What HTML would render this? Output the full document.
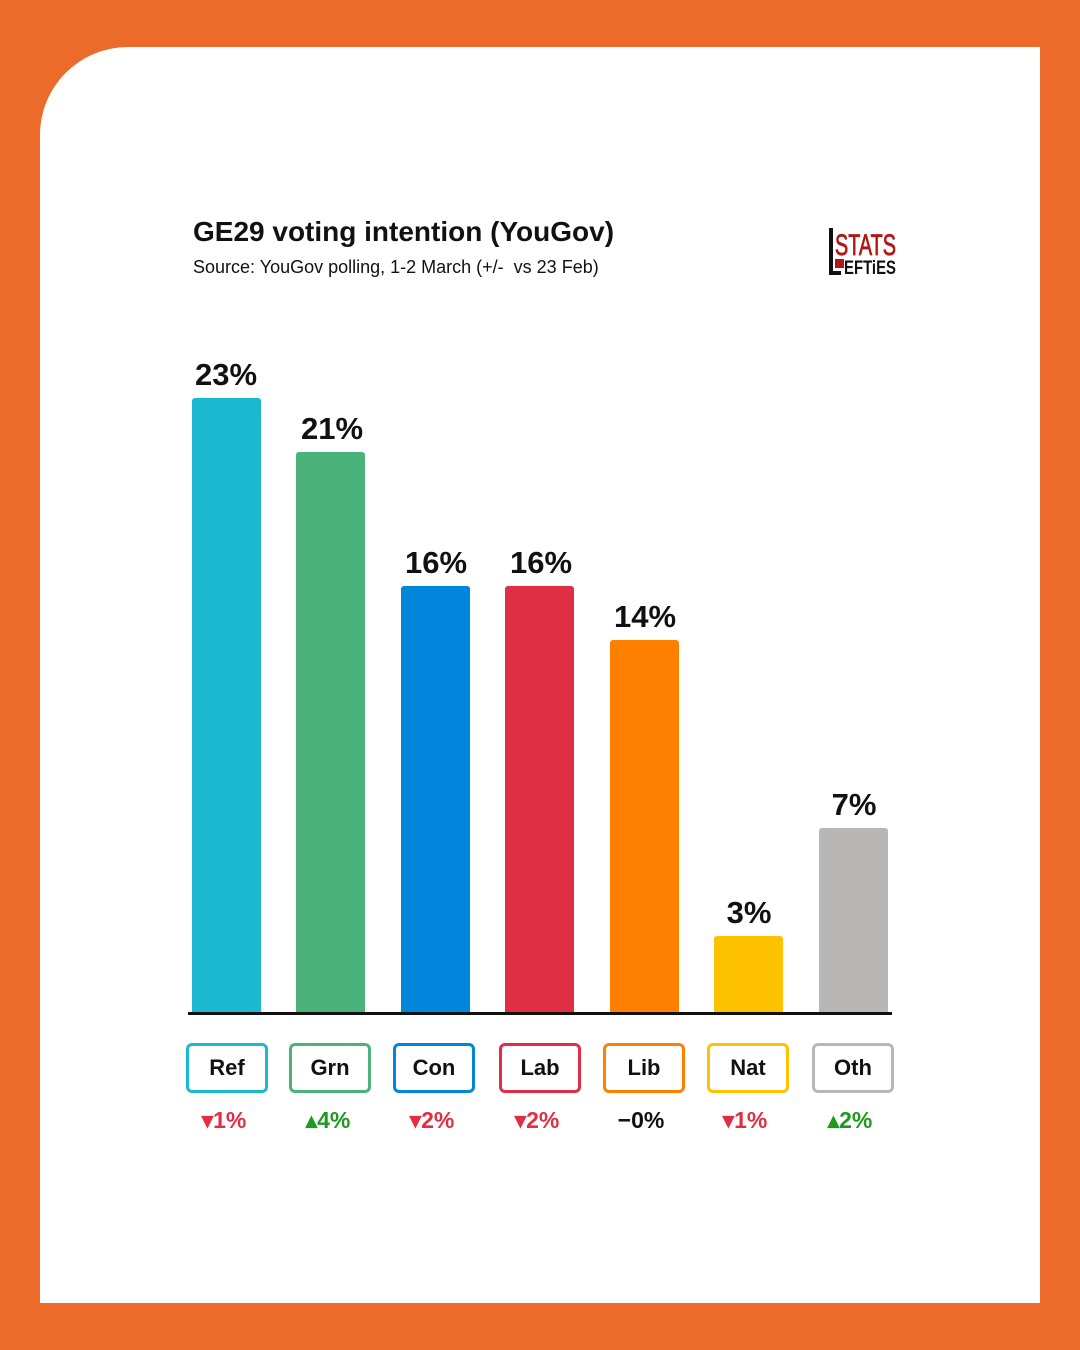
<!DOCTYPE html>
<html><head><style>
body{margin:0;width:1080px;height:1350px;background:#EC6A2A;position:relative;overflow:hidden;font-family:"Liberation Sans",Arial,sans-serif}
.panel{position:absolute;left:40px;top:47px;width:1000px;height:1256px;background:#fff;border-top-left-radius:88px}
.t{position:absolute;left:193px;top:216px;font-size:28px;font-weight:bold;color:#111}
.s{position:absolute;left:193px;top:257px;font-size:18px;color:#111}
.bar{position:absolute;width:69px;border-radius:3px 3px 0 0}
.v{position:absolute;width:120px;text-align:center;font-size:31px;font-weight:bold;color:#111}
.axis{position:absolute;left:188px;top:1012px;width:704px;height:3px;background:#111}
.box{position:absolute;top:1043px;width:76px;height:44px;border:3px solid;border-radius:6px;text-align:center;line-height:44px;font-size:22px;font-weight:bold;color:#111}
.d{position:absolute;top:1107px;width:120px;text-align:center;font-size:23px;font-weight:bold}
.logo{position:absolute;left:828px;top:228px;width:70px;height:48px}
</style></head><body>
<div class="panel"></div>
<div class="t">GE29 voting intention (YouGov)</div>
<div class="s">Source: YouGov polling, 1-2 March (+/-&nbsp; vs 23 Feb)</div>
<svg class="logo" viewBox="0 0 70 48"><rect x="1" y="0" width="4" height="47" fill="#111"/><rect x="1" y="43" width="12" height="4" fill="#111"/>
<text x="7" y="27" font-family="Liberation Sans Narrow,Liberation Sans,sans-serif" font-size="30" fill="#b01818" stroke="#b01818" stroke-width="0.8" textLength="61" lengthAdjust="spacingAndGlyphs">STATS</text>
<rect x="7" y="31" width="9" height="9" fill="#b01818"/>
<text x="16" y="46" font-family="Liberation Sans,sans-serif" font-weight="bold" font-size="19" fill="#111" textLength="52" lengthAdjust="spacingAndGlyphs">EFTiES</text></svg>

<div class="bar" style="left:192px;top:398px;height:615px;background:#1CB8D2"></div>
<div class="bar" style="left:296px;top:452px;height:561px;background:#4BB27A"></div>
<div class="bar" style="left:401px;top:586px;height:427px;background:#0087DC"></div>
<div class="bar" style="left:505px;top:586px;height:427px;background:#E02E44"></div>
<div class="bar" style="left:610px;top:640px;height:373px;background:#FF7F00"></div>
<div class="bar" style="left:714px;top:936px;height:77px;background:#FFC200"></div>
<div class="bar" style="left:819px;top:828px;height:185px;background:#B9B7B5"></div>

<div class="v" style="left:166px;top:357px">23%</div>
<div class="v" style="left:272px;top:411px">21%</div>
<div class="v" style="left:376px;top:545px">16%</div>
<div class="v" style="left:481px;top:545px">16%</div>
<div class="v" style="left:585px;top:599px">14%</div>
<div class="v" style="left:689px;top:895px">3%</div>
<div class="v" style="left:794px;top:787px">7%</div>
<div class="axis"></div>

<div class="box" style="left:186px;border-color:#1CB8D2">Ref</div>
<div class="box" style="left:289px;border-color:#4BB27A">Grn</div>
<div class="box" style="left:393px;border-color:#0087DC">Con</div>
<div class="box" style="left:499px;border-color:#E02E44">Lab</div>
<div class="box" style="left:603px;border-color:#FF7F00">Lib</div>
<div class="box" style="left:707px;border-color:#FFC200">Nat</div>
<div class="box" style="left:812px;border-color:#B9B7B5">Oth</div>

<div class="d" style="left:164px;color:#E02E44">▾1%</div>
<div class="d" style="left:268px;color:#1E9A1E">▴4%</div>
<div class="d" style="left:372px;color:#E02E44">▾2%</div>
<div class="d" style="left:477px;color:#E02E44">▾2%</div>
<div class="d" style="left:581px;color:#111">−0%</div>
<div class="d" style="left:685px;color:#E02E44">▾1%</div>
<div class="d" style="left:790px;color:#1E9A1E">▴2%</div>
</body></html>
